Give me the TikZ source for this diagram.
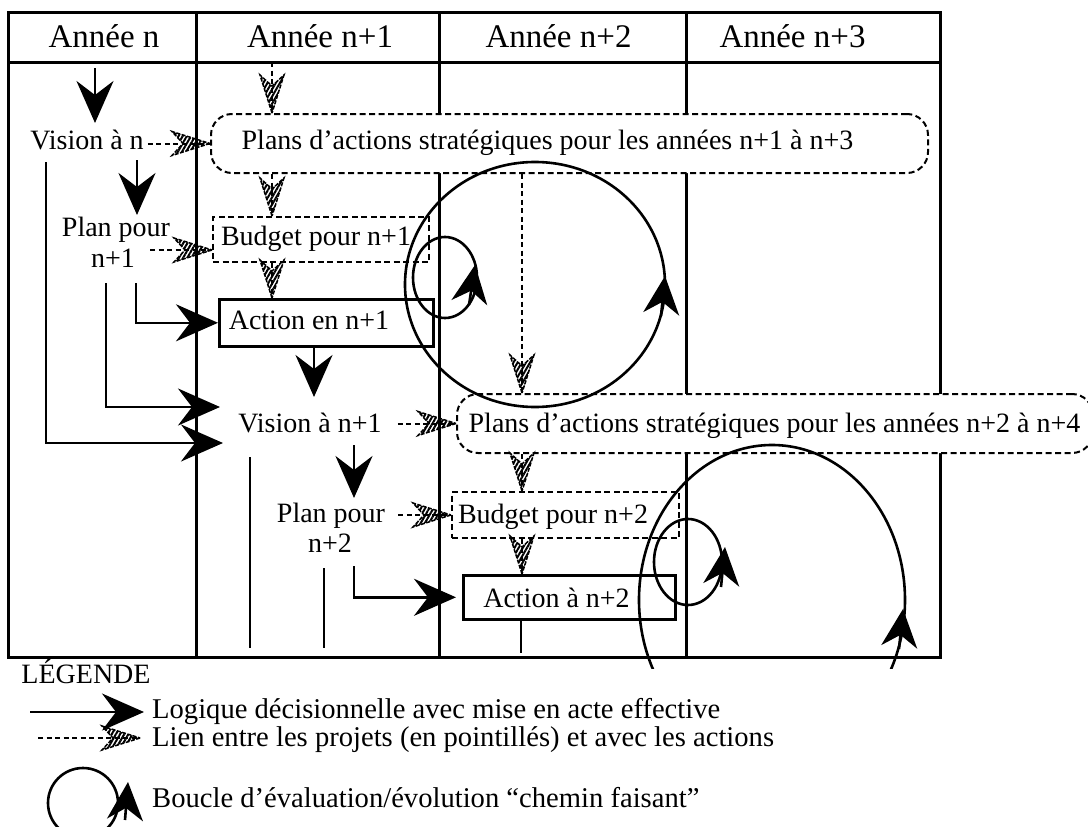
\documentclass[tikz,border=0pt]{standalone}
\usepackage{fontspec}
\setmainfont{Liberation Serif}
\usetikzlibrary{arrows.meta,decorations.markings,patterns.meta}

\newcommand\hatchhead{%
  \path[draw, line width=1.5pt, dash pattern=on 4pt off 1.5pt,
        pattern={Lines[angle=60,distance=3.6pt,line width=2pt]}]
    (0,0) -- (-38,12) -- (-27,0) -- (-38,-12) -- cycle;}

\tikzset{
  grid/.style={line width=3pt},
  sline/.style={line width=2.6pt},
  sarrow/.style={line width=2.6pt, -{Stealth[length=42pt,width=37pt,inset=14pt]}},
  dline/.style={line width=2pt, dash pattern=on 5pt off 3.5pt},
  dbox/.style={draw, fill=white, line width=2pt, dash pattern=on 6pt off 3.5pt, inner sep=0pt},
  sbox/.style={draw, fill=white, line width=2.6pt, inner sep=0pt},
  txt/.style={font=\fontsize{28}{32}\selectfont, inner sep=0pt, anchor=base},
  ltxt/.style={font=\fontsize{28.6}{32}\selectfont, inner sep=0pt, anchor=base west},
  hdr/.style={font=\fontsize{33}{36}\selectfont, inner sep=0pt, anchor=base},
  loopline/.style={line width=2.6pt},
  loophead/.style={line width=2.6pt, -{Stealth[length=38pt,width=36pt,inset=12pt]}},
  harrow/.style={dline, postaction={decorate, decoration={markings, mark=at position 1 with {\hatchhead}}}},
}

\begin{document}
\begin{tikzpicture}[x=1pt,y=-1pt]
\useasboundingbox (0,0) rectangle (1088,827);

% table
\draw[grid] (8,12.5) rectangle (940.5,657);
\draw[grid] (8,62) -- (940.5,62);
\foreach \x in {196.5,439,686} \draw[grid] (\x,12.5) -- (\x,657);

% header
\node[hdr] (h0) at (104,47) {Année n};
\node[hdr] (h1) at (320,47) {Année n+1};
\node[hdr] (h2) at (558.5,47) {Année n+2};
\node[hdr] (h3) at (792.5,47) {Année n+3};

% boxes
\node[dbox, rounded corners=21pt, minimum width=717pt, minimum height=59pt, anchor=north west] (plans1) at (210,113) {};
\node[dbox, minimum width=216pt, minimum height=45pt, anchor=north west] (budget1) at (212,216) {};
\node[sbox, minimum width=214pt, minimum height=47pt, anchor=north west] (action1) at (218,298) {};
\node[dbox, rounded corners=21pt, minimum width=636pt, minimum height=59pt, anchor=north west] (plans2) at (456,393) {};
\node[dbox, minimum width=227pt, minimum height=46pt, anchor=north west] (budget2) at (451,491) {};
\node[sbox, minimum width=212pt, minimum height=44pt, anchor=north west] (action2) at (462,574) {};

% texts
\node[txt] (visn) at (87,149) {Vision à n};
\node[txt] (plan1a) at (116,236) {Plan pour};
\node[txt] (plan1b) at (113,267) {n+1};
\node[txt] (plans1t) at (547.5,149) {Plans d’actions stratégiques pour les années n+1 à n+3};
\node[txt] (bud1t) at (316,245) {Budget pour n+1};
\node[txt] (act1t) at (309,329) {Action en n+1};
\node[txt] (visn1) at (310,432) {Vision à n+1};
\node[txt] (plans2t) at (774.5,432) {Plans d’actions stratégiques pour les années n+2 à n+4};
\node[txt] (plan2a) at (331,522) {Plan pour};
\node[txt] (plan2b) at (330,552) {n+2};
\node[txt] (bud2t) at (553,523) {Budget pour n+2};
\node[txt] (act2t) at (556.5,607) {Action à n+2};

% evaluation loops
\draw[loopline] (535,284.5) ellipse [x radius=130pt, y radius=122.5pt];
\draw[loophead] (661,316) -- (665,276);
\draw[loopline] (445,277.5) ellipse [x radius=32pt, y radius=40.5pt];
\draw[loophead] (469,305) -- (475,265);
\begin{scope}
  \clip (600,430) rectangle (960,668);
  \draw[loopline] (772,600) ellipse [x radius=133pt, y radius=155pt];
\end{scope}
\draw[loophead] (899,649) -- (903,609);
\draw[loopline] (688,562) ellipse [x radius=34pt, y radius=43pt];
\draw[loophead] (721,587) -- (725,547);

% solid decision arrows
\coordinate (a1s) at (95,68);   \coordinate (a1e) at (95,123);
\coordinate (a2s) at (137,160); \coordinate (a2e) at (137,215);
\coordinate (a3s) at (46,162);  \coordinate (a3e) at (223,443);
\coordinate (a4s) at (106,283); \coordinate (a4e) at (220,407);
\coordinate (a5s) at (136,283);
\coordinate (a6e) at (314,397);
\coordinate (a7s) at (354,445); \coordinate (a7e) at (354,498);
\coordinate (a8s) at (354,566);
\draw[sarrow] (a1s) -- (a1e);
\draw[sarrow] (a2s) -- (a2e);
\draw[sarrow] (a3s) |- (a3e);
\draw[sarrow] (a4s) |- (a4e);
\draw[sarrow] (a5s) |- (action1.west);
\draw[sarrow] (action1.south -| a6e) -- (a6e);
\draw[sarrow] (a7s) -- (a7e);
\draw[sarrow] (a8s) |- ([xshift=-6pt]action2.west);

% plain lines
\coordinate (p1s) at (250,457); \coordinate (p1e) at (250,648);
\coordinate (p2s) at (324,568); \coordinate (p2e) at (324,648);
\coordinate (p3e) at (521,653);
\draw[sline] (p1s) -- (p1e);
\draw[sline] (p2s) -- (p2e);
\draw[sline] (action2.south -| p3e) -- (p3e);

% hatched links
\coordinate (hx1) at (272,62);
\coordinate (hx2) at (522,172);
\coordinate (h4s) at (150,250);
\draw[harrow] (hx1) -- (hx1 |- plans1.north);
\draw[harrow] ([xshift=4pt]visn.east |- plans1.west) -- (plans1.west);
\draw[harrow] (hx1 |- plans1.south) -- (hx1 |- budget1.north);
\draw[harrow] (h4s) -- (h4s -| budget1.west);
\draw[harrow] (hx1 |- budget1.south) -- (hx1 |- action1.north);
\draw[harrow] ([xshift=16pt]visn1.east |- plans2.west) -- (plans2.west);
\draw[harrow] (hx2 |- plans1.south) -- (hx2 |- plans2.north);
\draw[harrow] ([xshift=13pt]plan2a.east |- budget2.west) -- (budget2.west);
\draw[harrow] (hx2 |- plans2.south) -- (hx2 |- budget2.north);
\draw[harrow] (hx2 |- budget2.south) -- (hx2 |- action2.north);

% legend
\node[txt] (leg) at (86,683) {LÉGENDE};
\node[ltxt] (l1) at (152,718) {Logique décisionnelle avec mise en acte effective};
\node[ltxt] (l2) at (152,746) {Lien entre les projets (en pointillés) et avec les actions};
\node[ltxt] (l3) at (152,807) {Boucle d’évaluation/évolution “chemin faisant”};
\coordinate (ls1) at (30,712);
\coordinate (ls2) at (38,738);
\draw[sarrow] (ls1) -- ([xshift=-8pt]l1.west |- ls1);
\draw[harrow] (ls2) -- ([xshift=-12pt]l2.west |- ls2);
\draw[loopline] (83,803) ellipse [x radius=35pt, y radius=35pt];
\draw[loophead] (125,820) -- (128,782);
\end{tikzpicture}
\end{document}
